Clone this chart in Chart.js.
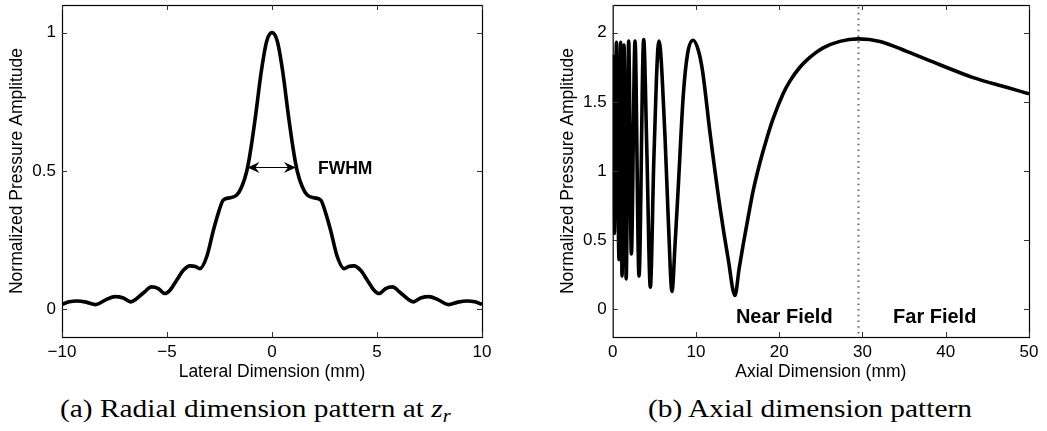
<!DOCTYPE html>
<html>
<head>
<meta charset="utf-8">
<script src="https://cdn.jsdelivr.net/npm/chart.js@4.4.1/dist/chart.umd.min.js"></script>
<style>
  html, body { margin: 0; padding: 0; background: #fff; }
  body { width: 1047px; height: 431px; position: relative; overflow: hidden; }
  .wrap { position: absolute; top: 0; }
  .cap { position: absolute; top: 394px; font-family: "Liberation Serif", "Times New Roman", serif; font-size: 26px; line-height: 30px; color: #000; white-space: nowrap; transform-origin: 0 0; transform: scaleX(1.13); }
  .cap sub { font-size: 70%; vertical-align: -0.25em; line-height: 0; }
</style>
</head>
<body>
<div class="wrap" style="left:0;width:520px;height:392px;"><canvas id="c1" width="520" height="392"></canvas></div>
<div class="wrap" style="left:520px;width:527px;height:392px;"><canvas id="c2" width="527" height="392"></canvas></div>
<div class="cap" style="left:60px;">(a) Radial dimension pattern at <i>z</i><sub><i>r</i></sub></div>
<div class="cap" style="left:648px;">(b) Axial dimension pattern</div>
<script>
// ---------- Data ----------
const latX = [-10, -9.65, -9.3, -8.85, -8.4, -7.9, -7.48, -7.08, -6.73, -6.44, -6.13, -5.73, -5.41, -5.1, -4.86, -4.54, -4.22, -3.9, -3.65, -3.43, -3.11, -2.79, -2.56, -2.32, -2.0, -1.68, -1.44, -1.2, -1.05, -0.8, -0.5, -0.25, 0,
              0.25, 0.5, 0.8, 1.05, 1.2, 1.44, 1.68, 2.0, 2.32, 2.56, 2.79, 3.11, 3.43, 3.65, 3.9, 4.22, 4.54, 4.86, 5.1, 5.41, 5.73, 6.13, 6.44, 6.73, 7.08, 7.48, 7.9, 8.4, 8.85, 9.3, 9.65, 10];
const latY = [0.018, 0.027, 0.030, 0.026, 0.017, 0.035, 0.046, 0.041, 0.027, 0.039, 0.059, 0.081, 0.075, 0.057, 0.069, 0.105, 0.141, 0.157, 0.155, 0.147, 0.19, 0.286, 0.347, 0.395, 0.403, 0.413, 0.443, 0.50, 0.56, 0.69, 0.865, 0.97, 1.0,
              0.97, 0.865, 0.69, 0.56, 0.50, 0.443, 0.413, 0.403, 0.395, 0.347, 0.286, 0.19, 0.147, 0.155, 0.157, 0.141, 0.105, 0.069, 0.057, 0.075, 0.081, 0.059, 0.039, 0.027, 0.041, 0.046, 0.035, 0.017, 0.026, 0.030, 0.027, 0.018];

const axialX = [0, 0.2, 0.45, 0.76, 0.96, 1.12, 1.36, 1.62, 1.92, 2.24, 2.68, 3.16, 3.72, 4.1, 4.52, 4.95, 5.55, 6.28, 6.68, 7.12, 7.5, 7.88, 8.48, 9.0, 9.65,
                10.3, 10.8, 11.68, 12.88, 13.88, 14.68, 15.2, 15.68, 16.28, 16.88, 17.68, 18.48, 19.28, 20.48, 21.28, 22.48, 23.28, 24.28, 25.28, 27.28, 29.5,
                32.1, 35.3, 39.3, 43.3, 47.3, 50];
const axialY = [1.84, 0.55, 1.93, 0.36, 1.93, 0.24, 1.91, 0.22, 1.94, 0.40, 1.94, 0.24, 1.95, 1.15, 0.16, 1.10, 1.94, 1.25, 0.645, 0.13, 0.48, 0.89, 1.55, 1.85, 1.945,
                1.87, 1.72, 1.28, 0.74, 0.36, 0.10, 0.30, 0.47, 0.67, 0.86, 1.06, 1.23, 1.38, 1.56, 1.65, 1.75, 1.80, 1.85, 1.89, 1.937, 1.955,
                1.937, 1.865, 1.768, 1.675, 1.605, 1.558];

const latXTicks = [-10, -5, 0, 5, 10];
const latYTicks = [0, 0.5, 1];
const axXTicks = [0, 10, 20, 30, 40, 50];
const axYTicks = [0, 0.5, 1, 1.5, 2];

const nearFarBoundary = 29.5;       // dotted line (mm)
const fwhmRange = [-1.17, 1.14];    // FWHM arrow ends (mm)
const fwhmLevel = 0.516;

// ---------- Helpers ----------
const SANS = '"Liberation Sans", Arial, Helvetica, sans-serif';
const fmt = v => (v < 0 ? '\u2212' + Math.abs(v) : String(v));

function xScale(min, max, ticks, title, h) {
  return {
    type: 'linear', min, max,
    afterBuildTicks: s => { s.ticks = ticks.map(v => ({ value: v })); },
    afterFit: s => { s.height = h; s.paddingLeft = 0; s.paddingRight = 0; },
    grid: { display: false, drawTicks: false },
    border: { display: false },
    ticks: { color: '#000', font: { family: SANS, size: 17 }, padding: 5, maxRotation: 0, autoSkip: false, callback: v => fmt(v) },
    title: { display: true, text: title, color: '#000', font: { family: SANS, size: 17.5 }, padding: { top: 0, bottom: 9.5 } }
  };
}
function yScale(min, max, ticks, title) {
  return {
    type: 'linear', min, max,
    afterBuildTicks: s => { s.ticks = ticks.map(v => ({ value: v })); },
    afterFit: s => { s.width = 62; s.paddingTop = 0; s.paddingBottom = 0; },
    grid: { display: false, drawTicks: false },
    border: { display: false },
    ticks: { color: '#000', font: { family: SANS, size: 17 }, padding: 6, autoSkip: false, callback: v => fmt(v) },
    title: { display: true, text: title, color: '#000', font: { family: SANS, size: 17.5 }, padding: { top: 7, bottom: 0 } }
  };
}

const frame = {
  id: 'frame',
  afterDraw(chart) {
    const { ctx, chartArea: a, scales: { x, y } } = chart;
    ctx.save();
    ctx.strokeStyle = '#000';
    ctx.lineWidth = 1.2;
    ctx.strokeRect(a.left + 0.5, a.top + 0.5, a.right - a.left, a.bottom - a.top);
    ctx.beginPath();
    ctx.lineWidth = 1;
    ctx.strokeStyle = '#333';
    x.ticks.forEach(t => {
      const p = Math.round(x.getPixelForValue(t.value)) + 0.5;
      ctx.moveTo(p, a.bottom); ctx.lineTo(p, a.bottom - 5);
      ctx.moveTo(p, a.top); ctx.lineTo(p, a.top + 5);
    });
    y.ticks.forEach(t => {
      const p = Math.round(y.getPixelForValue(t.value)) + 0.5;
      ctx.moveTo(a.left, p); ctx.lineTo(a.left + 5, p);
      ctx.moveTo(a.right, p); ctx.lineTo(a.right - 5, p);
    });
    ctx.stroke();
    ctx.restore();
  }
};

function arrowHead(ctx, tipX, tipY, dir) {
  const L = 12, W = 5.5, N = 8;
  ctx.beginPath();
  ctx.moveTo(tipX, tipY);
  ctx.lineTo(tipX + dir * L, tipY - W);
  ctx.lineTo(tipX + dir * N, tipY);
  ctx.lineTo(tipX + dir * L, tipY + W);
  ctx.closePath();
  ctx.fill();
}

const fwhmPlugin = {
  id: 'fwhm',
  afterDatasetsDraw(chart) {
    const { ctx, scales: { x, y } } = chart;
    const x1 = x.getPixelForValue(fwhmRange[0]), x2 = x.getPixelForValue(fwhmRange[1]);
    const yy = Math.round(y.getPixelForValue(fwhmLevel)) + 0.5;
    ctx.save();
    ctx.strokeStyle = '#000'; ctx.fillStyle = '#000'; ctx.lineWidth = 1;
    ctx.beginPath(); ctx.moveTo(x1 + 4, yy); ctx.lineTo(x2 - 4, yy); ctx.stroke();
    arrowHead(ctx, x1, yy, 1);
    arrowHead(ctx, x2, yy, -1);
    ctx.font = 'bold 17.5px ' + SANS;
    ctx.textAlign = 'left'; ctx.textBaseline = 'alphabetic';
    ctx.fillText('FWHM', x.getPixelForValue(2.19), y.getPixelForValue(0.49));
    ctx.restore();
  }
};

const fieldPlugin = {
  id: 'fields',
  beforeDatasetsDraw(chart) {
    const { ctx, chartArea: a, scales: { x } } = chart;
    const px = Math.round(x.getPixelForValue(nearFarBoundary)) + 0.5;
    ctx.save();
    ctx.strokeStyle = '#666'; ctx.lineWidth = 2; ctx.setLineDash([1.5, 4.2]);
    ctx.beginPath(); ctx.moveTo(px, a.top + 2); ctx.lineTo(px, a.bottom); ctx.stroke();
    ctx.restore();
  },
  afterDatasetsDraw(chart) {
    const { ctx, scales: { x, y } } = chart;
    ctx.save();
    ctx.fillStyle = '#000';
    ctx.font = 'bold 20px ' + SANS;
    ctx.textAlign = 'left'; ctx.textBaseline = 'alphabetic';
    ctx.fillText('Near Field', x.getPixelForValue(14.8), y.getPixelForValue(-0.099));
    ctx.fillText('Far Field', x.getPixelForValue(33.67), y.getPixelForValue(-0.099));
    ctx.restore();
  }
};

function lineDataset(xs, ys) {
  return {
    data: xs.map((v, i) => ({ x: v, y: ys[i] })),
    borderColor: '#000', borderWidth: 3.6, pointRadius: 0,
    cubicInterpolationMode: 'monotone', fill: false
  };
}

const common = {
  responsive: false, animation: false, devicePixelRatio: 1,
  plugins: { legend: { display: false }, tooltip: { enabled: false } }
};

new Chart(document.getElementById('c1'), {
  type: 'line',
  data: { datasets: [lineDataset(latX, latY)] },
  options: Object.assign({}, common, {
    layout: { padding: { left: 0, right: 38, top: 5, bottom: 0 } },
    scales: {
      x: xScale(-10, 10, latXTicks, 'Lateral Dimension (mm)', 55),
      y: yScale(-0.1, 1.1, latYTicks, 'Normalized Pressure Amplitude')
    }
  }),
  plugins: [frame, fwhmPlugin]
});

new Chart(document.getElementById('c2'), {
  type: 'line',
  data: { datasets: [lineDataset(axialX, axialY)] },
  options: Object.assign({}, common, {
    layout: { padding: { left: 30.7, right: 18, top: 5, bottom: 0 } },
    scales: {
      x: xScale(0, 50, axXTicks, 'Axial Dimension (mm)', 55),
      y: yScale(-0.2, 2.2, axYTicks, 'Normalized Pressure Amplitude')
    }
  }),
  plugins: [frame, fieldPlugin]
});
</script>
</body>
</html>
